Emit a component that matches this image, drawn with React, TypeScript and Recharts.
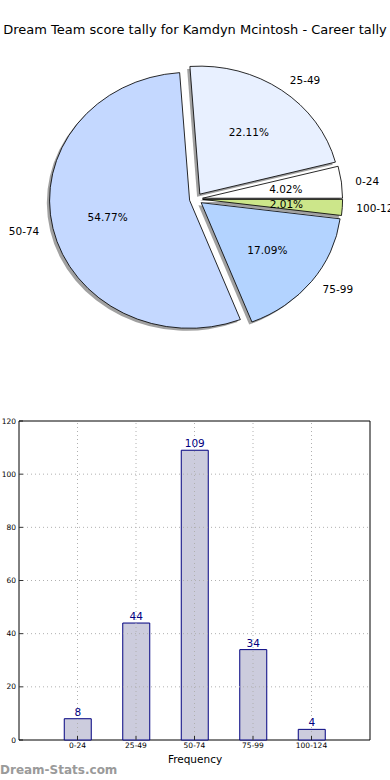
import React from "react";
import {
  PieChart,
  Pie,
  Sector,
  BarChart,
  Bar,
  XAxis,
  YAxis,
  ReferenceLine,
  ReferenceArea,
  LabelList,
} from "recharts";

const categories = ["0-24", "25-49", "50-74", "75-99", "100-124"];
const counts = [8, 44, 109, 34, 4];
const sliceColors = ["#ffffff", "#e8f0ff", "#c4d8ff", "#b3d3ff", "#cce68a"];
const yTicks = [0, 20, 40, 60, 80, 100, 120];
const xTicks = [0, 1, 2, 3, 4];

const pieData = categories.map((name, i) => ({ name, value: counts[i], fill: sliceColors[i] }));
const barData = categories.map((name, i) => ({ pos: i, name, value: counts[i] }));

const FONT = "'DejaVu Sans', sans-serif";
const RAD = Math.PI / 180;
const SX = 1.094; // pie is drawn slightly wider than tall
const EXPLODE = 6;

function offsetOf(startAngle: number, endAngle: number) {
  const mid = (startAngle + endAngle) / 2;
  return [EXPLODE * Math.cos(-mid * RAD), EXPLODE * Math.sin(-mid * RAD)];
}

function makeSlice(shadow: boolean) {
  return (props: any) => {
    const { cx, cy, outerRadius, startAngle, endAngle, fill } = props;
    const [dx, dy] = offsetOf(startAngle, endAngle);
    const sx = shadow ? -2.5 : 0;
    const sy = shadow ? 2.5 : 0;
    return (
      <g transform={`translate(${cx} ${cy}) scale(${SX} 1) translate(${-cx + dx + sx} ${-cy + dy + sy})`}>
        <Sector
          cx={cx}
          cy={cy}
          innerRadius={0}
          outerRadius={outerRadius}
          startAngle={startAngle}
          endAngle={endAngle}
          fill={shadow ? "#444" : fill}
          fillOpacity={shadow ? 0.5 : 1}
          stroke={shadow ? "none" : "#000"}
          strokeWidth={0.8}
        />
      </g>
    );
  };
}

const renderLabel = (props: any) => {
  const { cx, cy, midAngle, outerRadius, percent, name } = props;
  const cos = Math.cos(-midAngle * RAD);
  const sin = Math.sin(-midAngle * RAD);
  const far = EXPLODE + outerRadius * 1.1;
  const near = EXPLODE + outerRadius * 0.6;
  return (
    <g>
      <text
        x={cx + far * cos * SX}
        y={cy + far * sin}
        textAnchor={cos >= 0 ? "start" : "end"}
        dominantBaseline="central"
        fontSize={10.5}
        fontFamily={FONT}
        fill="#000"
      >
        {name}
      </text>
      <text
        x={cx + near * cos * SX}
        y={cy + near * sin}
        textAnchor="middle"
        dominantBaseline="central"
        fontSize={10.5}
        fontFamily={FONT}
        fill="#000"
      >
        {(percent * 100).toFixed(2)}%
      </text>
    </g>
  );
};

const shadowSlice = makeSlice(true);
const mainSlice = makeSlice(false);

export default function App() {
  const shadowProps: any = { shape: shadowSlice, activeShape: shadowSlice, inactiveShape: shadowSlice };
  const mainProps: any = { shape: mainSlice, activeShape: mainSlice, inactiveShape: mainSlice };
  const tickStroke = { stroke: "#000", strokeWidth: 0.8 };
  return (
    <div style={{ position: "absolute", left: 0, top: 0, width: 390, height: 780, background: "#fff", fontFamily: FONT }}>
      <div style={{ position: "absolute", top: 22, left: 0, width: 390, textAlign: "center", fontSize: 13, whiteSpace: "nowrap" }}>
        Dream Team score tally for Kamdyn Mcintosh - Career tally
      </div>
      <div style={{ position: "absolute", top: 0, left: 0 }}>
        <PieChart width={390} height={360} margin={{ top: 0, right: 0, bottom: 0, left: 0 }}>
          <Pie
            data={pieData}
            dataKey="value"
            cx={196}
            cy={199}
            outerRadius={128}
            startAngle={0}
            endAngle={360}
            {...shadowProps}
            label={false}
            labelLine={false}
            isAnimationActive={false}
          />
          <Pie
            data={pieData}
            dataKey="value"
            cx={196}
            cy={199}
            outerRadius={128}
            startAngle={0}
            endAngle={360}
            {...mainProps}
            label={renderLabel}
            labelLine={false}
            isAnimationActive={false}
          />
        </PieChart>
      </div>
      <div style={{ position: "absolute", top: 400, left: 0 }}>
        <BarChart width={390} height={380} data={barData} margin={{ top: 21, right: 20, bottom: 20, left: 0 }}>
          <XAxis
            type="number"
            dataKey="pos"
            domain={[-1, 5]}
            ticks={xTicks}
            tickFormatter={(v: number) => categories[v]}
            axisLine={false}
            tickLine={tickStroke}
            tickSize={-4}
            tickMargin={7}
            height={20}
            tick={{ fontSize: 7.5, fill: "#000", fontFamily: FONT }}
            allowDataOverflow
          />
          <XAxis
            xAxisId="top"
            orientation="top"
            type="number"
            dataKey="pos"
            domain={[-1, 5]}
            ticks={xTicks}
            tickFormatter={() => ""}
            axisLine={false}
            tickLine={tickStroke}
            tickSize={-4}
            height={0}
            allowDataOverflow
          />
          <YAxis
            domain={[0, 120]}
            ticks={yTicks}
            axisLine={false}
            tickLine={tickStroke}
            tickSize={-4}
            tickMargin={7}
            width={19}
            tick={{ fontSize: 7.5, fill: "#000", fontFamily: FONT }}
          />
          <YAxis
            yAxisId="right"
            orientation="right"
            domain={[0, 120]}
            ticks={yTicks}
            tickFormatter={() => ""}
            axisLine={false}
            tickLine={tickStroke}
            tickSize={-4}
            width={0}
          />
          <Bar dataKey="value" fill="#ccccdd" stroke="#000080" strokeWidth={1} barSize={27} isAnimationActive={false}>
            <LabelList dataKey="value" position="top" offset={3} fill="#000080" fontSize={10.5} fontFamily={FONT} />
          </Bar>
          {xTicks.map((x) => (
            <ReferenceLine key={"v" + x} x={x} stroke="#b0b0b0" strokeDasharray="1 3" />
          ))}
          {yTicks.slice(1, -1).map((y) => (
            <ReferenceLine key={"h" + y} y={y} stroke="#b0b0b0" strokeDasharray="1 3" />
          ))}
          <ReferenceArea x1={-1} x2={5} y1={0} y2={120} fill="none" stroke="#000" strokeWidth={1} ifOverflow="visible" />
        </BarChart>
      </div>
      <div style={{ position: "absolute", top: 753, left: 0, width: 390, textAlign: "center", fontSize: 10.5 }}>
        Frequency
      </div>
      <div style={{ position: "absolute", top: 763, left: 0, fontSize: 12, fontWeight: "bold", color: "#9a9a9a" }}>
        Dream-Stats.com
      </div>
    </div>
  );
}
